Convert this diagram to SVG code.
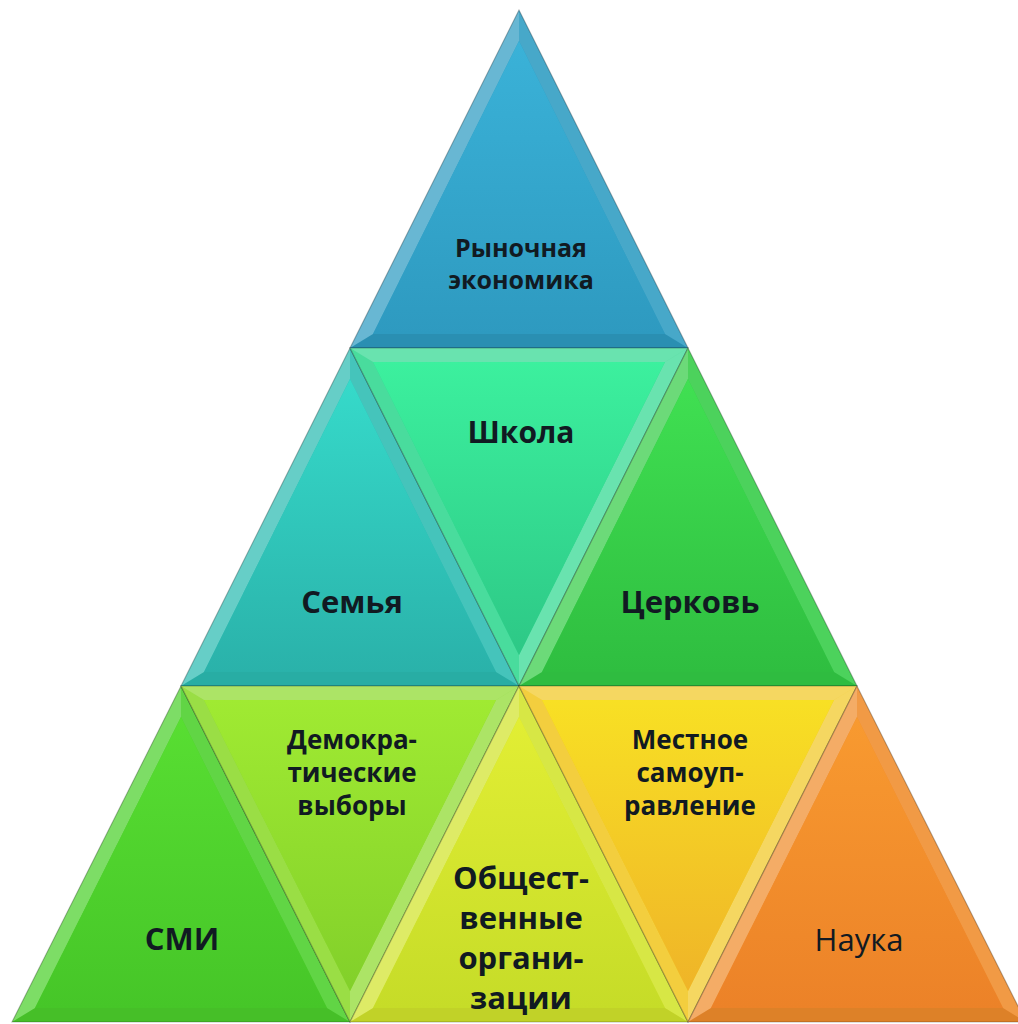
<svg xmlns="http://www.w3.org/2000/svg" width="1018" height="1024" viewBox="0 0 1018 1024">
<defs>
<linearGradient id="g1" x1="0" y1="0" x2="0" y2="1"><stop offset="0" stop-color="#3AB2D8"/><stop offset="1" stop-color="#2E9AC0"/></linearGradient>
<linearGradient id="g2" x1="0" y1="0" x2="0" y2="1"><stop offset="0" stop-color="#36DACA"/><stop offset="1" stop-color="#2AB2AA"/></linearGradient>
<linearGradient id="g3" x1="0" y1="0" x2="0" y2="1"><stop offset="0" stop-color="#3CF09E"/><stop offset="1" stop-color="#2DC886"/></linearGradient>
<linearGradient id="g4" x1="0" y1="0" x2="0" y2="1"><stop offset="0" stop-color="#40E052"/><stop offset="1" stop-color="#2FBE40"/></linearGradient>
<linearGradient id="g5" x1="0" y1="0" x2="0" y2="1"><stop offset="0" stop-color="#58DE32"/><stop offset="1" stop-color="#46C628"/></linearGradient>
<linearGradient id="g6" x1="0" y1="0" x2="0" y2="1"><stop offset="0" stop-color="#A0EA32"/><stop offset="1" stop-color="#82D02A"/></linearGradient>
<linearGradient id="g7" x1="0" y1="0" x2="0" y2="1"><stop offset="0" stop-color="#E2EE34"/><stop offset="1" stop-color="#C6DC28"/></linearGradient>
<linearGradient id="g8" x1="0" y1="0" x2="0" y2="1"><stop offset="0" stop-color="#F8E024"/><stop offset="1" stop-color="#EFB428"/></linearGradient>
<linearGradient id="g9" x1="0" y1="0" x2="0" y2="1"><stop offset="0" stop-color="#F89A30"/><stop offset="1" stop-color="#EC8228"/></linearGradient>
</defs>
<style>
.hl{fill:#ffffff;fill-opacity:0.28}
.hm{fill:#ffffff;fill-opacity:0.12}
.sh{fill:#000000;fill-opacity:0.08}
.edge{fill:none;stroke:#000;stroke-opacity:0.25;stroke-width:1.2}
.t{font-family:"Open Sans","Noto Sans","Liberation Sans",sans-serif;font-weight:bold;fill:#111a22;text-anchor:middle}
.r{font-weight:normal}
</style>

<g id="n1">
<polygon points="519,10 350,348 688,348" fill="#2E9CC2"/>
<polygon class="hl" points="519,10 350,348 373,334 519,41"/>
<polygon class="hm" points="519,10 688,348 665,334 519,41"/>
<polygon class="sh" points="350,348 688,348 665,334 373,334"/>
<polygon points="519,41 373,334 665,334" fill="url(#g1)"/>
<polygon class="edge" points="519,10 350,348 688,348"/>
<text class="t" font-size="25" x="521" y="257">Рыночная</text>
<text class="t" font-size="25" x="521" y="289">экономика</text>
</g>

<g id="n2">
<polygon points="350,348 181,686 519,686" fill="#2CBCB2"/>
<polygon class="hl" points="350,348 181,686 204,672 350,379"/>
<polygon class="hm" points="350,348 519,686 496,672 350,379"/>
<polygon class="sh" points="181,686 519,686 496,672 204,672"/>
<polygon points="350,379 204,672 496,672" fill="url(#g2)"/>
<polygon class="edge" points="350,348 181,686 519,686"/>
<text class="t" font-size="31" x="352" y="613">Семья</text>
</g>

<g id="n3">
<polygon points="350,348 688,348 519,686" fill="#30D890"/>
<polygon class="hl" points="350,348 688,348 665,362 373,362"/>
<polygon class="hm" points="350,348 519,686 519,655 373,362"/>
<polygon class="hl" points="688,348 519,686 519,655 665,362"/>
<polygon points="373,362 665,362 519,655" fill="url(#g3)"/>
<polygon class="edge" points="350,348 688,348 519,686"/>
<text class="t" font-size="30" x="521" y="443">Школа</text>
</g>

<g id="n4">
<polygon points="688,348 519,686 857,686" fill="#34CC46"/>
<polygon class="hl" points="688,348 519,686 542,672 688,379"/>
<polygon class="hm" points="688,348 857,686 834,672 688,379"/>
<polygon class="sh" points="519,686 857,686 834,672 542,672"/>
<polygon points="688,379 542,672 834,672" fill="url(#g4)"/>
<polygon class="edge" points="688,348 519,686 857,686"/>
<text class="t" font-size="31" x="690" y="613">Церковь</text>
</g>

<g id="n5">
<polygon points="181,686 12,1022 350,1022" fill="#4CD02C"/>
<polygon class="hl" points="181,686 12,1022 35,1008 181,717"/>
<polygon class="hm" points="181,686 350,1022 327,1008 181,717"/>
<polygon class="sh" points="12,1022 350,1022 327,1008 35,1008"/>
<polygon points="181,717 35,1008 327,1008" fill="url(#g5)"/>
<polygon class="edge" points="181,686 12,1022 350,1022"/>
<text class="t" font-size="31" x="182" y="950">СМИ</text>
</g>

<g id="n6">
<polygon points="181,686 519,686 350,1022" fill="#8CDA2C"/>
<polygon class="hl" points="181,686 519,686 496,700 204,700"/>
<polygon class="hm" points="181,686 350,1022 350,991 204,700"/>
<polygon class="hl" points="519,686 350,1022 350,991 496,700"/>
<polygon points="204,700 496,700 350,991" fill="url(#g6)"/>
<polygon class="edge" points="181,686 519,686 350,1022"/>
<text class="t" font-size="26" x="352" y="749">Демокра-</text>
<text class="t" font-size="26" x="352" y="782">тические</text>
<text class="t" font-size="26" x="352" y="815">выборы</text>
</g>

<g id="n7">
<polygon points="519,686 350,1022 688,1022" fill="#D2E42C"/>
<polygon class="hl" points="519,686 350,1022 373,1008 519,717"/>
<polygon class="hm" points="519,686 688,1022 665,1008 519,717"/>
<polygon class="sh" points="350,1022 688,1022 665,1008 373,1008"/>
<polygon points="519,717 373,1008 665,1008" fill="url(#g7)"/>
<polygon class="edge" points="519,686 350,1022 688,1022"/>
<text class="t" font-size="31" x="521" y="889">Общест-</text>
<text class="t" font-size="31" x="521" y="929">венные</text>
<text class="t" font-size="31" x="521" y="969">органи-</text>
<text class="t" font-size="31" x="521" y="1009">зации</text>
</g>

<g id="n8">
<polygon points="519,686 857,686 688,1022" fill="#F2C824"/>
<polygon class="hl" points="519,686 857,686 834,700 542,700"/>
<polygon class="hm" points="519,686 688,1022 688,991 542,700"/>
<polygon class="hl" points="857,686 688,1022 688,991 834,700"/>
<polygon points="542,700 834,700 688,991" fill="url(#g8)"/>
<polygon class="edge" points="519,686 857,686 688,1022"/>
<text class="t" font-size="26" x="690" y="749">Местное</text>
<text class="t" font-size="26" x="690" y="782">самоуп-</text>
<text class="t" font-size="26" x="690" y="815">равление</text>
</g>

<g id="n9">
<polygon points="857,686 688,1022 1026,1022" fill="#F08C2C"/>
<polygon class="hl" points="857,686 688,1022 711,1008 857,717"/>
<polygon class="hm" points="857,686 1026,1022 1003,1008 857,717"/>
<polygon class="sh" points="688,1022 1026,1022 1003,1008 711,1008"/>
<polygon points="857,717 711,1008 1003,1008" fill="url(#g9)"/>
<polygon class="edge" points="857,686 688,1022 1026,1022"/>
<text class="t r" font-size="31" x="859" y="951">Наука</text>
</g>

<g id="connectors"></g>
</svg>
